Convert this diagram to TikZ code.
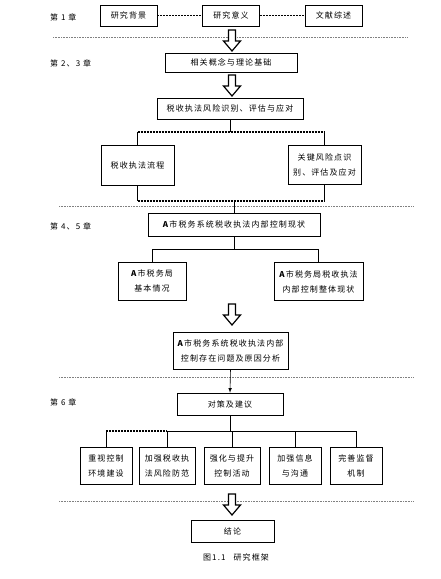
\documentclass[tikz,border=0pt]{standalone}
\usepackage{fontspec}
\newfontfamily\cjk[LetterSpace=14]{Noto Sans CJK SC}
\usepackage{tikz}
\usetikzlibrary{arrows}
\tikzstyle{box} = [draw, rectangle, line width=0.5pt, inner sep=0pt,
   align=center, font=\cjk\fontsize{8}{15}\selectfont]
\tikzstyle{chapter} = [anchor=west, inner sep=0pt, font=\cjk\fontsize{8}{10}\selectfont]
\tikzstyle{sepLine} = [densely dotted, gray, line width=0.6pt]
\tikzstyle{link} = [line width=0.6pt]
\tikzstyle{dashLink} = [line width=1.2pt, dash pattern=on 2pt off 1pt]
\tikzset{hollowArrow/.pic={
   \draw[line width=1.2pt, fill=white] (-3.5,0) -- (3.5,0) -- (3.5,11) -- (8.5,11)
     -- (0,21) -- (-8.5,11) -- (-3.5,11) -- cycle;}}

\begin{document}
\begin{tikzpicture}[x=1pt, y=-1pt]
  \useasboundingbox (0,0) rectangle (440,579);

  % chapter labels
  \node[chapter] (c1) at (50,17) {第 1 章};
  \node[chapter] (c2) at (50,63) {第 2、3 章};
  \node[chapter] (c3) at (50,226) {第 4、5 章};
  \node[chapter] (c4) at (50,402) {第 6 章};

  % boxes
  \node[box, minimum width=57pt, minimum height=21pt] (bg) at (128.5,15.5) {研究背景};
  \node[box, minimum width=57pt, minimum height=21pt] (yy) at (231,15.5) {研究意义};
  \node[box, minimum width=57pt, minimum height=21pt] (ws) at (333.5,15.5) {文献综述};
  \node[box, minimum width=132pt, minimum height=19pt] (gn) at (231,62.5) {相关概念与理论基础};
  \node[box, minimum width=146pt, minimum height=21pt] (fx) at (230,108.5) {税收执法风险识别、评估与应对};
  \node[box, minimum width=73pt, minimum height=40pt] (lc) at (137.5,165) {税收执法流程};
  \node[box, minimum width=73pt, minimum height=39pt] (gj) at (324.5,165) {关键风险点识\\别、评估及应对};
  \node[box, minimum width=172pt, minimum height=23pt] (xz) at (234,224.5) {{\bfseries A}\,市税务系统税收执法内部控制现状};
  \node[box, minimum width=68pt, minimum height=38pt] (jb) at (152,281) {{\bfseries A}\,市税务局\\基本情况};
  \node[box, minimum width=89pt, minimum height=38pt] (zt) at (318.5,281.5) {{\bfseries A}\,市税务局税收执法\\内部控制整体现状};
  \node[box, minimum width=115pt, minimum height=37pt] (wt) at (230.5,350.5) {{\bfseries A}\,市税务系统税收执法内部\\控制存在问题及原因分析};
  \node[box, minimum width=106pt, minimum height=22pt] (dc) at (230,404) {对策及建议};
  \node[box, minimum width=52pt, minimum height=37pt] (s1) at (106,466) {重视控制\\环境建设};
  \node[box, minimum width=56pt, minimum height=37pt] (s2) at (167,466) {加强税收执\\法风险防范};
  \node[box, minimum width=56pt, minimum height=37pt] (s3) at (232,466) {强化与提升\\控制活动};
  \node[box, minimum width=52pt, minimum height=37pt] (s4) at (295,466) {加强信息\\与沟通};
  \node[box, minimum width=52pt, minimum height=37pt] (s5) at (356,466) {完善监督\\机制};
  \node[box, minimum width=83pt, minimum height=22pt] (jl) at (232.5,531) {结论};
  \node[inner sep=0pt, font=\cjk\fontsize{8}{10}\selectfont] (cap) at (236,557) {图1.1\quad 研究框架};

  % heavy bottom edges
  \foreach \n in {bg,yy,ws,gn,fx,lc,gj,xz,jb,zt,wt,dc,s1,s2,s3,s4,s5,jl}
    \draw[line width=1.3pt] (\n.south west) -- (\n.south east);

  % chapter separators
  \draw[sepLine] (53,37) -- (407,37);
  \draw[sepLine] (59,206) -- (413,206);
  \draw[sepLine] (59,377) -- (413,377);
  \draw[sepLine] (59,501) -- (413,501);

  % join points
  \coordinate (fxJoin) at (230,132);
  \coordinate (lcTop) at (137.5,132);
  \coordinate (gjTop) at (324.5,132);
  \coordinate (lcBot) at (137.5,201);
  \coordinate (gjBot) at (324.5,201);
  \coordinate (xzJoin) at (234,201);
  \coordinate (stJoin) at (234,249);
  \coordinate (jbTop) at (152,249);
  \coordinate (ztTop) at (318.5,249);
  \coordinate (dcJoin) at (230,431);
  \foreach \n in {s1,s2,s3,s4,s5}
    \coordinate (\n Top) at (\n.north |- dcJoin);

  % connectors
  \draw[dashLink] (bg) -- (yy);
  \draw[dashLink] (yy) -- (ws);
  \draw[link] (fx.south) -- (fxJoin);
  \draw[dashLink] (lcTop) -- (gjTop);
  \draw[link] (lcTop) -- (lc.north);
  \draw[link] (gjTop) -- (gj.north);
  \draw[link] (lc.south) -- (lcBot);
  \draw[link] (gj.south) -- (gjBot);
  \draw[dashLink] (lcBot) -- (gjBot);
  \draw[link] (xzJoin) -- (xz.north);
  \draw[link] (xz.south) -- (stJoin);
  \draw[link] (jbTop) -- (ztTop);
  \draw[link] (jbTop) -- (jb.north);
  \draw[link] (ztTop) -- (zt.north);
  \draw[link, -latex] (wt.south) -- (dc.north);
  \draw[link] (dc.south) -- (dcJoin);
  \draw[dashLink] (s1Top) -- (s2Top);
  \draw[link] (s2Top) -- (s5Top);
  \foreach \n in {s1,s2,s3,s4,s5}
    \draw[link] (\n Top) -- (\n.north);

  % hollow arrows
  \pic at (232,30) {hollowArrow};
  \pic at (232,75) {hollowArrow};
  \pic at (232,304) {hollowArrow};
  \pic at (232,494) {hollowArrow};
\end{tikzpicture}
\end{document}
